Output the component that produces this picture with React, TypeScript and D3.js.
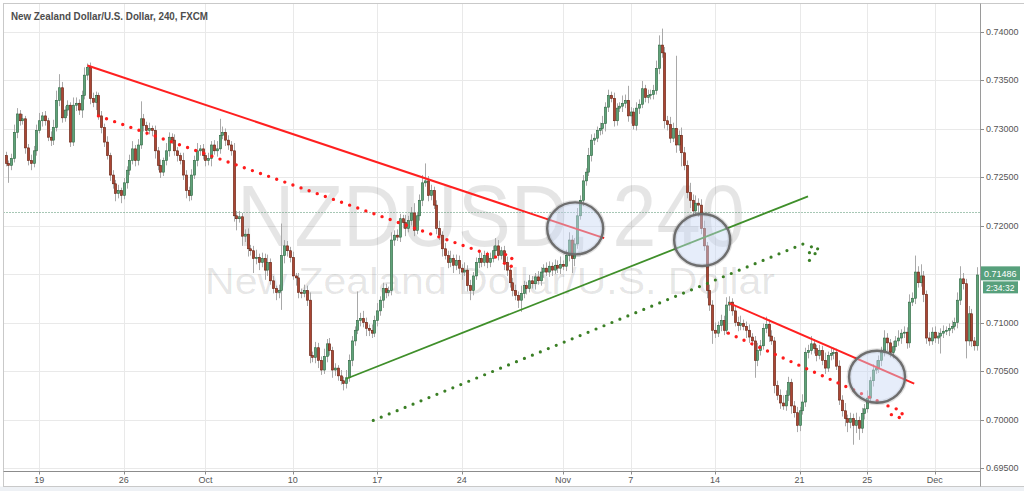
import React from 'react';
import * as d3 from 'd3';

const W = 1024;
const H = 491;

// Prices in pips (1e-4). Open of each bar = previous close.
const firstOpen = 7272;
const closes = [
  7264,7262,7269,7296,7315,7308,7310,7280,7267,7264,
  7277,7298,7308,7313,7308,7291,7288,7301,7329,7342,
  7311,7319,7324,7286,7324,7326,7319,7334,7355,7363,
  7331,7327,7334,7313,7301,7286,7272,7252,7243,7233,
  7236,7231,7244,7257,7267,7279,7267,7283,7310,7303,
  7298,7300,7298,7277,7262,7255,7267,7277,7291,7288,
  7277,7272,7267,7252,7236,7231,7252,7267,7277,7279,
  7272,7267,7269,7283,7277,7279,7293,7296,7288,7283,
  7277,7210,7207,7209,7189,7191,7176,7174,7166,7167,
  7162,7166,7154,7162,7143,7135,7131,7133,7169,7179,
  7174,7167,7148,7146,7131,7130,7133,7123,7066,7064,
  7074,7061,7051,7065,7078,7071,7051,7053,7045,7040,
  7037,7043,7061,7081,7092,7102,7104,7100,7094,7092,
  7089,7102,7112,7123,7135,7131,7133,7185,7190,7188,
  7207,7203,7197,7205,7213,7195,7210,7226,7244,7246,
  7231,7236,7221,7197,7190,7176,7169,7162,7166,7159,
  7164,7156,7152,7154,7138,7133,7148,7162,7166,7162,
  7169,7162,7166,7174,7179,7169,7174,7162,7154,7141,
  7133,7128,7123,7130,7138,7135,7143,7140,7147,7143,
  7152,7156,7152,7158,7154,7159,7156,7160,7158,7169,
  7185,7166,7181,7210,7226,7246,7255,7272,7288,7290,
  7298,7300,7305,7322,7334,7331,7308,7321,7323,7326,
  7329,7313,7317,7303,7321,7325,7341,7332,7334,7335,
  7339,7362,7386,7378,7308,7304,7290,7300,7283,7293,
  7275,7262,7234,7226,7215,7223,7221,7197,7179,7133,
  7118,7092,7089,7097,7102,7092,7118,7121,7112,7100,
  7097,7099,7096,7092,7085,7081,7061,7071,7076,7094,
  7098,7086,7081,7035,7025,7017,7014,7025,7038,7014,
  7007,6994,7009,7018,7069,7071,7078,7073,7066,7071,
  7061,7053,7066,7068,7069,7055,7020,7009,7001,6997,
  7001,6994,6999,6991,7006,7011,7022,7040,7051,7053,
  7061,7069,7084,7079,7069,7075,7081,7084,7089,7090,
  7079,7121,7125,7152,7141,7148,7129,7084,7081,7090,
  7084,7086,7089,7091,7092,7094,7096,7100,7123,7145,
  7140,7081,7109,7081,7076,7149,
];
const wickUp = [
  4,3,5,8,6,4,5,3,4,6,
  5,6,8,4,5,3,6,8,10,14,
  6,4,5,3,8,6,4,5,8,4,
  5,6,4,3,5,4,6,3,5,4,
  6,3,5,4,6,8,4,6,18,5,
  4,6,3,5,4,6,3,8,5,4,
  6,4,3,8,5,4,6,5,8,4,
  5,3,6,4,5,8,17,6,4,5,
  4,8,5,6,4,5,6,4,5,8,
  4,6,5,8,4,5,3,6,33,6,
  5,4,6,3,5,4,6,5,8,4,
  6,5,4,8,5,6,4,5,3,6,
  4,8,6,5,4,30,6,8,5,4,
  6,5,8,4,6,5,4,8,5,6,
  5,4,8,5,6,10,4,6,8,18,
  5,6,4,5,8,4,6,5,8,4,
  6,5,4,8,5,6,4,5,8,6,
  5,4,6,5,8,6,4,5,6,4,
  5,6,4,8,5,4,6,5,4,6,
  5,4,6,5,4,6,5,8,4,6,
  8,5,6,8,5,6,4,8,6,5,
  4,6,8,5,6,4,6,5,4,8,
  6,15,5,4,6,5,8,4,6,5,
  6,8,10,17,6,5,8,6,75,5,
  8,6,5,10,6,8,5,6,8,4,
  6,5,8,4,6,5,8,6,4,5,
  6,8,4,5,6,4,5,8,6,5,
  8,5,6,4,5,6,8,5,6,4,
  5,6,4,8,5,6,8,5,4,6,
  5,8,4,6,5,4,6,5,8,4,
  6,5,8,4,6,5,8,4,6,8,
  5,6,8,5,4,6,5,8,4,6,
  5,8,6,17,6,12,5,4,6,5,
  6,4,5,6,4,5,6,5,8,13,
  6,5,8,5,4,8,
];
const wickDn = [
  3,18,5,4,6,5,4,6,5,7,
  4,5,3,6,5,4,6,5,4,6,
  5,4,6,5,4,6,5,8,4,5,
  6,5,8,4,6,5,4,6,5,8,
  5,8,4,6,5,4,6,5,4,6,
  5,4,6,8,5,6,4,5,6,4,
  5,6,4,5,8,6,5,4,6,5,
  4,6,5,8,4,6,5,4,6,5,
  5,6,12,4,10,6,8,5,15,6,
  8,5,10,6,4,5,8,6,20,8,
  6,5,4,8,6,5,4,6,8,5,
  6,8,5,4,6,5,8,6,5,4,
  7,5,4,6,5,4,6,5,8,6,
  5,4,6,5,8,6,4,5,6,4,
  5,6,8,4,5,6,4,5,6,4,
  6,5,4,6,5,8,4,6,5,8,
  5,6,8,4,6,10,5,4,6,5,
  4,6,5,4,6,5,4,8,6,5,
  6,5,8,12,5,6,4,5,6,4,
  5,6,4,5,6,4,5,6,4,5,
  6,15,8,5,4,6,5,4,6,5,
  4,5,6,8,5,4,6,5,4,6,
  5,6,8,4,5,6,4,5,6,4,
  5,4,6,5,8,6,5,4,8,6,
  14,5,6,8,5,4,12,6,5,8,
  6,14,5,4,6,5,4,6,5,4,
  6,5,4,8,6,5,18,6,5,4,
  5,6,4,8,5,6,4,5,6,8,
  5,7,6,4,5,6,4,5,6,4,
  5,6,4,5,6,4,5,6,8,10,
  6,20,8,12,5,6,4,5,6,4,
  5,6,4,8,5,6,4,5,6,5,
  6,5,4,6,5,4,8,6,5,4,
  5,6,18,5,4,6,5,4,6,5,
  6,18,5,6,5,5,
];

const timeLabels = ['19', '26', 'Oct', '10', '17', '24', 'Nov', '7', '14', '21', '25', 'Dec'];
const timeLabelBars = [12, 42, 71, 102, 132, 162, 198, 222, 252, 282, 306, 330];
const priceTicks = [0.695, 0.7, 0.705, 0.71, 0.715, 0.72, 0.725, 0.73, 0.735, 0.74];
const lastPrice = 0.71486;
const countdown = '2:34:32';
const refLevel = 0.72136;

// drawings: [bar, pips]
const redTrend1 = [[29.1, 7365], [212.6, 7187]];
const redDots1 = [[33.0, 7313], [175.5, 7166]];
const redDots1Head = [[177.6, 7170], [179.8, 7166], [177.2, 7161], [179.6, 7158]];
const greenTrend = [[121.0, 7042], [285.0, 7230]];
const greenDots = [[130.6, 6999], [283.3, 7181]];
const greenDotsHead = [[286.2, 7178], [288.4, 7176], [285.5, 7172], [287.5, 7171], [285.5, 7164]];
const redTrend2 = [[257.0, 7120], [322.7, 7037]];
const redDots2 = [[256.7, 7089], [310.6, 7018]];
const redDots2Head = [[313.4, 7014], [316.3, 7011], [318.4, 7006], [314.6, 7005], [317.4, 7002]];
const circles = [[202.3, 7197], [247.4, 7185], [309.5, 7044]];

const FONT = '"Liberation Sans", Arial, sans-serif';

export default function App() {
  const n = closes.length;
  const x = d3.scaleLinear().domain([0, n - 1]).range([5.5, 977]);
  const y = d3.scaleLinear().domain([0.695, 0.74]).range([468, 31.5]);
  const p = (v: number) => v / 10000;
  const fmt = d3.format('.5f');

  const plotL = 3.5, plotT = 3.5, plotR = 980.5, axisY = 471.5, frameB = 486.5;

  const candles = closes.map((c, i) => {
    const o = i === 0 ? firstOpen : closes[i - 1];
    return { i, o, c, h: Math.max(o, c) + wickUp[i], l: Math.min(o, c) - wickDn[i] };
  });

  const seg = (pts: number[][]) => d3.line<number[]>().x((d) => x(d[0])).y((d) => y(p(d[1])))(pts) || '';

  const ly = y(lastPrice);

  return (
    <div style={{ position: 'absolute', left: 0, top: 0, width: W, height: H, background: '#fff' }}>
      <svg width={W} height={H} style={{ display: 'block', fontFamily: FONT }}>
        <rect x={0} y={0} width={W} height={H} fill="#ffffff" />
        <rect x={0} y={frameB} width={W} height={H - frameB} fill="#eef1f5" />
        {/* grid */}
        {priceTicks.map((t) => (
          <line key={'h' + t} x1={plotL} x2={plotR} y1={Math.round(y(t)) + 0.5} y2={Math.round(y(t)) + 0.5} stroke="#e9e9e9" />
        ))}
        {timeLabelBars.map((b) => (
          <line key={'v' + b} x1={Math.round(x(b)) + 0.5} x2={Math.round(x(b)) + 0.5} y1={plotT} y2={axisY} stroke="#e9e9e9" />
        ))}
        {/* watermark */}
        <text x={491} y={246} fontSize={88} textAnchor="middle" textLength={508} lengthAdjust="spacingAndGlyphs" fill="rgba(0,0,0,0.1)">
          NZDUSD, 240
        </text>
        <text x={490} y={294} fontSize={37} textAnchor="middle" textLength={570} lengthAdjust="spacingAndGlyphs" fill="rgba(0,0,0,0.1)">
          New Zealand Dollar/U.S. Dollar
        </text>
        {/* reference dotted level */}
        <line x1={plotL} x2={plotR} y1={Math.round(y(refLevel)) + 0.5} y2={Math.round(y(refLevel)) + 0.5} stroke="#4f8f6a" strokeDasharray="1 2" />
        {/* candles */}
        {candles.map((d) => {
          const cx = Math.round(x(d.i)) + 0.5;
          const up = d.c >= d.o;
          const yt = y(p(Math.max(d.o, d.c)));
          const yb = y(p(Math.min(d.o, d.c)));
          return (
            <g key={d.i}>
              <line x1={cx} x2={cx} y1={y(p(d.h))} y2={y(p(d.l))} stroke="#a9a9a9" strokeWidth={1} />
              <rect
                x={cx - 1.1}
                y={yt}
                width={2.2}
                height={Math.max(1, yb - yt)}
                fill={up ? '#5fa279' : '#aa4634'}
                stroke={up ? '#2d6640' : '#66200f'}
                strokeWidth={0.6}
              />
            </g>
          );
        })}
        {/* drawings */}
        <path d={seg(redTrend1)} stroke="#ff2020" strokeWidth={2} fill="none" />
        <path d={seg(redDots1)} stroke="#ff1c1c" strokeWidth={3.4} strokeLinecap="round" strokeDasharray="0 8.6" fill="none" />
        {redDots1Head.map((d, k) => (
          <circle key={'r1' + k} cx={x(d[0])} cy={y(p(d[1]))} r={1.7} fill="#ff1c1c" />
        ))}
        <path d={seg(greenTrend)} stroke="#3f8f2a" strokeWidth={1.8} fill="none" />
        <path d={seg(greenDots)} stroke="#3a7f25" strokeWidth={3.2} strokeLinecap="round" strokeDasharray="0 8.6" fill="none" />
        {greenDotsHead.map((d, k) => (
          <circle key={'g' + k} cx={x(d[0])} cy={y(p(d[1]))} r={1.6} fill="#3a7f25" />
        ))}
        <path d={seg(redTrend2)} stroke="#ff2020" strokeWidth={2} fill="none" />
        <path d={seg(redDots2)} stroke="#ff1c1c" strokeWidth={3.4} strokeLinecap="round" strokeDasharray="0 8.6" fill="none" />
        {redDots2Head.map((d, k) => (
          <circle key={'r2' + k} cx={x(d[0])} cy={y(p(d[1]))} r={1.7} fill="#ff1c1c" />
        ))}
        {circles.map((d, k) => (
          <g key={'c' + k}>
            <ellipse cx={x(d[0])} cy={y(p(d[1]))} rx={28} ry={26} fill="none" stroke="rgba(0,0,0,0.12)" strokeWidth={5} />
            <ellipse cx={x(d[0])} cy={y(p(d[1]))} rx={28} ry={26} fill="rgba(200,214,245,0.45)" stroke="#6e6e6e" strokeWidth={2.4} />
          </g>
        ))}
        {/* frame and axes */}
        <rect x={plotL} y={plotT} width={W} height={frameB - plotT} fill="none" stroke="#c9c9c9" />
        <line x1={plotL} x2={plotR} y1={axisY} y2={axisY} stroke="#8c8c8c" />
        <line x1={plotR} x2={plotR} y1={plotT} y2={frameB} stroke="#9a9a9a" />
        {priceTicks.map((t) => (
          <g key={'pt' + t}>
            <line x1={plotR} x2={plotR + 3.5} y1={Math.round(y(t)) + 0.5} y2={Math.round(y(t)) + 0.5} stroke="#8c8c8c" />
            <text x={986} y={y(t) + 3} fontSize={9} fill="#555">
              {fmt(t)}
            </text>
          </g>
        ))}
        {timeLabelBars.map((b, k) => (
          <g key={'tl' + b}>
            <line x1={Math.round(x(b)) + 0.5} x2={Math.round(x(b)) + 0.5} y1={axisY} y2={axisY + 3} stroke="#8c8c8c" />
            <text x={x(b)} y={483} fontSize={9} fill="#555" textAnchor="middle">
              {timeLabels[k]}
            </text>
          </g>
        ))}
        {/* last price label */}
        <rect x={981} y={ly - 9} width={39} height={14} fill="#57a07c" />
        <text x={984} y={ly + 1.5} fontSize={9} fill="#fff">
          {fmt(lastPrice)}
        </text>
        <rect x={983} y={ly + 6} width={35} height={12} fill="#57a07c" />
        <text x={986} y={ly + 15.5} fontSize={8.5} fill="#fff">
          {countdown}
        </text>
        {/* title */}
        <text x={11} y={20} fontSize={11} fontWeight={700} fill="#4d4d4d" textLength={197} lengthAdjust="spacingAndGlyphs">
          New Zealand Dollar/U.S. Dollar, 240, FXCM
        </text>
      </svg>
    </div>
  );
}
